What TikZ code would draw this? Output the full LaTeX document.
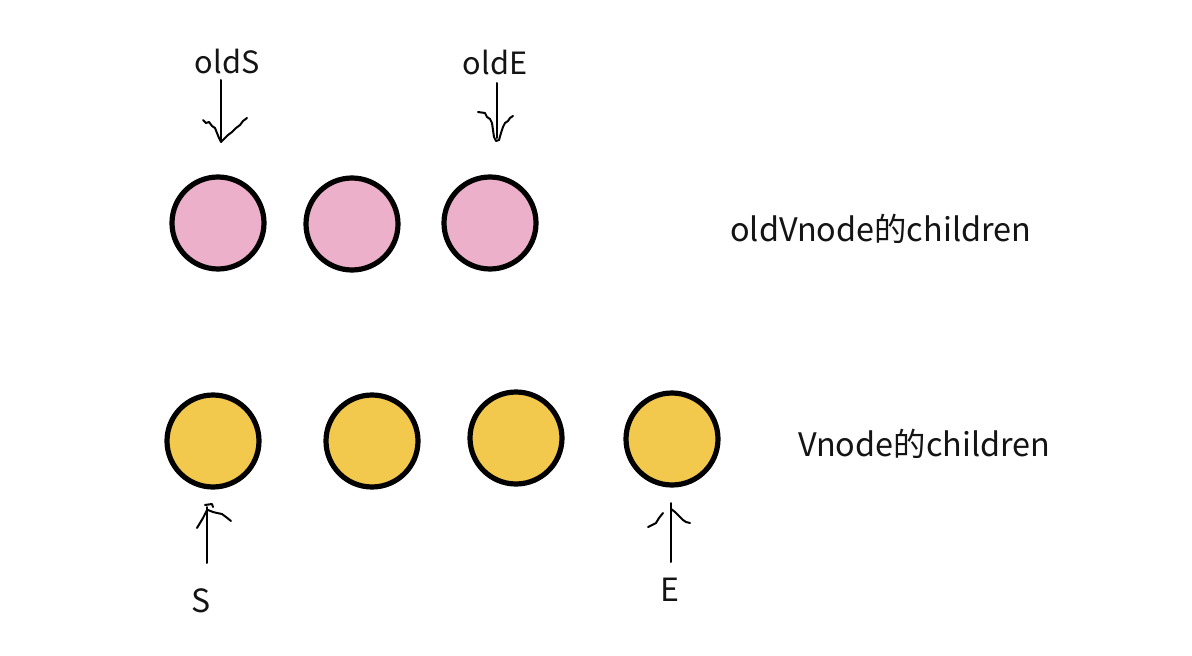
\documentclass[tikz,border=0pt]{standalone}
\usepackage{fontspec}
\setmainfont{Noto Sans CJK SC}
\definecolor{pinkfill}{RGB}{236,176,202}
\definecolor{yellowfill}{RGB}{242,201,76}
\definecolor{inkc}{RGB}{20,20,20}
\begin{document}
\begin{tikzpicture}[x=0.75pt,y=-0.75pt,
  pinkball/.style={circle,draw=black,line width=3.9pt,fill=pinkfill,minimum size=69pt,inner sep=0pt},
  yellowball/.style={circle,draw=black,line width=3.9pt,fill=yellowfill,minimum size=69pt,inner sep=0pt},
  lbl/.style={font=\fontsize{23}{27}\selectfont,text=inkc,inner sep=0pt},
  longlbl/.style={font=\fontsize{24.3}{28}\selectfont,text=inkc,inner sep=0pt},
  biglbl/.style={font=\fontsize{24}{28}\selectfont,text=inkc,inner sep=0pt},
  hand/.style={draw=black,line width=1.5pt,line join=round,line cap=round}]
\useasboundingbox[fill=white] (0,0) rectangle (1192,656);

% old children
\node[pinkball] (p1) at (218,223) {};
\node[pinkball] (p2) at (352,224) {};
\node[pinkball] (p3) at (490,223) {};
% new children
\node[yellowball] (y1) at (213,441) {};
\node[yellowball] (y2) at (372,441) {};
\node[yellowball] (y3) at (516,438) {};
\node[yellowball] (y4) at (672,439) {};

% labels
\node[lbl] (oldS) at (227,61) {oldS};
\node[lbl] (oldE) at (495,62) {oldE};
\node[longlbl,anchor=west] (oldV) at (730,229) {oldVnode的children};
\node[longlbl,anchor=west] (newV) at (798,444) {Vnode的children};
\node[biglbl] (S) at (201,601) {S};
\node[biglbl] (E) at (670,590) {E};

% arrow end coordinates
\coordinate (oldSa) at (221,80);
\coordinate (oldSb) at (221,141);
\coordinate (oldEa) at (497,83);
\coordinate (oldEb) at (497,138);
\coordinate (Sa) at (207,563);
\coordinate (Sb) at (207,507);
\coordinate (Ea) at (671,562);
\coordinate (Eb) at (671,503);

% shafts
\draw[hand] (oldSa) -- (oldSb);
\draw[hand] (oldEa) -- (oldEb);
\draw[hand] (Sa) -- (Sb);
\draw[hand] (Ea) -- (Eb);

% hand-drawn heads
\draw[hand] (203,120) -- (206,123) -- (209,122) -- (212,126) -- (215,128) -- (217,133) -- (219,138) -- (221,142)
  -- (224,139) -- (228,135) -- (232,132) -- (236,128) -- (240,125) -- (243,121) -- (247,118);
\draw[hand] (478,112) -- (485,113) -- (487,117) -- (490,119) -- (492,123) -- (493,130) -- (494,137) -- (496,141)
  -- (499,140) -- (501,133) -- (503,127) -- (505,123) -- (508,121) -- (510,118) -- (513,116);
\draw[hand] (205,505) -- (212,504) -- (213,507);
\draw[hand] (197,528) -- (200,523) -- (203,518) -- (207,510);
\draw[hand] (208,510) -- (213,512) -- (217,513) -- (222,514) -- (226,517) -- (231,521);
\draw[hand] (648,527) -- (652,525) -- (656,523) -- (659,518) -- (663,513);
\draw[hand] (671,509) -- (675,512) -- (679,516) -- (683,520) -- (686,522) -- (690,523);
\end{tikzpicture}
\end{document}
